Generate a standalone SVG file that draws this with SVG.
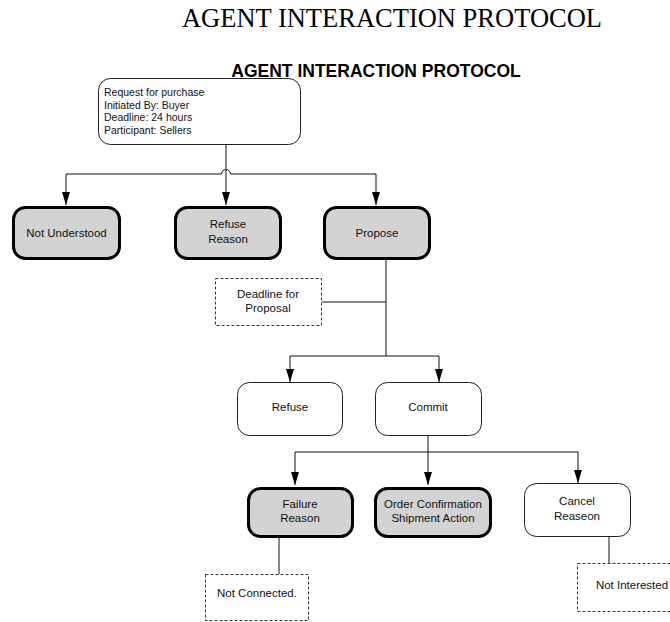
<svg xmlns="http://www.w3.org/2000/svg" width="670" height="622" viewBox="0 0 670 622">
<style>
  .t { font-family: "Liberation Sans", Arial, sans-serif; font-size: 11.5px; fill: #111; text-anchor: middle; }
  .s { font-family: "Liberation Sans", Arial, sans-serif; font-size: 10.5px; fill: #111; }
  .thick { fill: #d3d3d3; stroke: #000; stroke-width: 3; }
  .thin { fill: #fff; stroke: #222; stroke-width: 1; }
  .dash { fill: #fff; stroke: #333; stroke-width: 1; stroke-dasharray: 3 2; }
  .c { fill: none; stroke: #111; stroke-width: 1; }
  .a { marker-end: url(#arr); }
</style>
<defs>
  <marker id="arr" markerUnits="userSpaceOnUse" markerWidth="13" markerHeight="8" viewBox="0 0 13 8" refX="13" refY="4" orient="auto">
    <path d="M0,0 L13,4 L0,8 Z" fill="#000"/>
  </marker>
</defs>
<rect width="670" height="622" fill="#fff"/>
<text x="392" y="27" font-family="Liberation Serif, Times New Roman, serif" font-size="26.5" text-anchor="middle" fill="#000">AGENT INTERACTION PROTOCOL</text>
<text x="376" y="77" font-family="Liberation Sans, Arial, sans-serif" font-size="17.5" font-weight="bold" text-anchor="middle" fill="#000">AGENT INTERACTION PROTOCOL</text>

<g id="connectors">
  <path class="c a" d="M226,145 V205"/>
  <path class="c a" d="M221.5,174 H66 V205"/>
  <path class="c a" d="M230.5,174 H376 V205"/>
  <path class="c" d="M221.5,174 A4.5,4.5 0 0 1 230.5,174"/>
  <path class="c" d="M386,260 V356"/>
  <path class="c" d="M322,302 H386"/>
  <path class="c a" d="M386,356 H290 V382"/>
  <path class="c a" d="M386,356 H439 V382"/>
  <path class="c a" d="M428,436 V485"/>
  <path class="c a" d="M428,452 H295 V485"/>
  <path class="c a" d="M428,452 H578 V483"/>
  <path class="c" d="M279,538 V574"/>
  <path class="c" d="M609,537 V563"/>
</g>

<g id="request">
  <rect class="thin" x="98.5" y="78.5" width="202" height="66" rx="12"/>
  <text class="s" x="104" y="96">Request for purchase</text>
  <text class="s" x="104" y="108.5">Initiated By: Buyer</text>
  <text class="s" x="104" y="121">Deadline: 24 hours</text>
  <text class="s" x="104" y="133.5">Participant: Sellers</text>
</g>

<g id="not-understood">
  <rect class="thick" x="13.5" y="207.5" width="106" height="51" rx="12"/>
  <text class="t" x="66.5" y="237">Not Understood</text>
</g>
<g id="refuse-reason">
  <rect class="thick" x="175.5" y="207.5" width="105" height="51" rx="12"/>
  <text class="t" x="228" y="228">Refuse</text>
  <text class="t" x="228" y="243">Reason</text>
</g>
<g id="propose">
  <rect class="thick" x="324.5" y="207.5" width="105" height="51" rx="12"/>
  <text class="t" x="377" y="237">Propose</text>
</g>

<g id="deadline">
  <rect class="dash" x="215.5" y="278.5" width="106" height="47"/>
  <text class="t" x="268" y="298">Deadline for</text>
  <text class="t" x="268" y="312">Proposal</text>
</g>

<g id="refuse">
  <rect class="thin" x="237.5" y="382.5" width="105" height="53" rx="12"/>
  <text class="t" x="290" y="411">Refuse</text>
</g>
<g id="commit">
  <rect class="thin" x="375.5" y="382.5" width="106" height="53" rx="12"/>
  <text class="t" x="428" y="411">Commit</text>
</g>

<g id="failure-reason">
  <rect class="thick" x="248.5" y="488.5" width="104" height="48" rx="12"/>
  <text class="t" x="300" y="508">Failure</text>
  <text class="t" x="300" y="522">Reason</text>
</g>
<g id="order-confirmation">
  <rect class="thick" x="375.5" y="488.5" width="115" height="48" rx="12"/>
  <text class="t" x="433" y="508">Order Confirmation</text>
  <text class="t" x="433" y="522">Shipment Action</text>
</g>
<g id="cancel-reason">
  <rect class="thin" x="524.5" y="483.5" width="106" height="53" rx="12"/>
  <text class="t" x="577" y="505">Cancel</text>
  <text class="t" x="577" y="520">Reaseon</text>
</g>

<g id="not-connected">
  <rect class="dash" x="205.5" y="574.5" width="103" height="46"/>
  <text class="t" x="257" y="597">Not Connected.</text>
</g>
<g id="not-interested">
  <rect class="dash" x="577.5" y="563.5" width="110" height="48"/>
  <text class="t" x="632" y="589">Not Interested</text>
</g>
</svg>
